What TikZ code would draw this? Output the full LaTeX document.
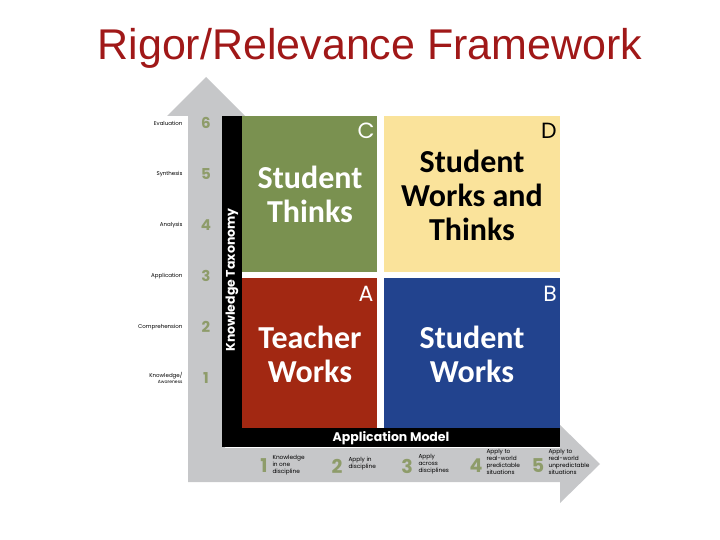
\documentclass[tikz,border=0pt]{standalone}
\usepackage{fontspec}
\setmainfont{Liberation Sans}
\newfontfamily\quadfont{Carlito}
\newfontfamily\geofont{Poppins}
\definecolor{titlered}{HTML}{A01818}
\definecolor{arrowgray}{HTML}{C6C7C9}
\definecolor{qgreen}{HTML}{7A9150}
\definecolor{qyellow}{HTML}{FAE39B}
\definecolor{qred}{HTML}{A22812}
\definecolor{qblue}{HTML}{22438E}
\definecolor{numolive}{HTML}{8E9C6A}
\tikzset{
  quadtext/.style={font=\quadfont\bfseries\fontsize{32}{34}\selectfont, align=center, text=white},
  quadletter/.style={font=\geofont\fontsize{22}{22}\selectfont, text=white},
  lefttag/.style={font=\geofont\fontsize{5.5}{6.5}\selectfont, anchor=east, align=right},
  leftnum/.style={font=\geofont\bfseries\fontsize{15}{15}\selectfont, text=numolive},
  botnum/.style={font=\geofont\bfseries\fontsize{19}{19}\selectfont, text=numolive},
  bottag/.style={font=\geofont\fontsize{5.8}{7}\selectfont, anchor=west, align=left},
  barlabel/.style={font=\geofont\bfseries\fontsize{12.5}{12.5}\selectfont, text=white}
}
\begin{document}
\begin{tikzpicture}[x=1pt,y=-1pt]
\useasboundingbox (0,0) rectangle (720,540);
% title
\node[font=\fontsize{43}{43}\selectfont, text=titlered] (title) at (370,48) {Rigor/Relevance Framework};
% gray arrows
\fill[arrowgray] (206,77) -- (245,116) -- (225,116) -- (225,448) -- (560,448) -- (560,425)
  -- (600,464) -- (560,503) -- (560,482) -- (188,482) -- (188,116) -- (167,116) -- cycle;
% black L bars
\fill[black] (222,116) rectangle (242,447);
\fill[black] (222,428) rectangle (560,447);
% quadrants
\fill[qgreen] (242,116) rectangle (377,272);
\fill[qyellow] (384,116) rectangle (560,272);
\fill[qred] (242,278) rectangle (377,428);
\fill[qblue] (384,278) rectangle (560,428);
% quadrant texts
\node[quadtext] (c) at (310,194) {Student\\Thinks};
\node[quadtext, text=black] (d) at (472,195) {Student\\Works and\\Thinks};
\node[quadtext] (a) at (310,354) {Teacher\\Works};
\node[quadtext] (b) at (472,354) {Student\\Works};
\node[quadletter] (lc) at (366,131) {C};
\node[quadletter, text=black] (ld) at (549,131) {D};
\node[quadletter] (la) at (366,294) {A};
\node[quadletter] (lb) at (550,294) {B};
% bar labels
\node[barlabel, rotate=90] (kt) at (232,280) {Knowledge Taxonomy};
\node[barlabel] (am) at (391,438) {Application Model};
% left scale
\foreach \n/\y/\t in {6/123/Evaluation, 5/174/Synthesis, 4/225/Analysis, 3/276/Application, 2/327/Comprehension}{
  \node[leftnum] (n\n) at (206,\y) {\n};
  \node[lefttag] (t\n) at (186,\y) {\t};
}
\node[leftnum] (n1) at (206,378) {1};
\node[lefttag] (t1) at (186,378) {Knowledge/\\{\fontsize{4.5}{5}\selectfont Awareness}};
% bottom scale
\node[botnum] (b1) at (264,466) {1};
\node[bottag] (bt1) at (269,465) {Knowledge\\in one\\discipline};
\node[botnum] (b2) at (337,466) {2};
\node[bottag] (bt2) at (345,464) {Apply in\\discipline};
\node[botnum] (b3) at (407,466) {3};
\node[bottag] (bt3) at (415,464) {Apply\\across\\disciplines};
\node[botnum] (b4) at (476,466) {4};
\node[bottag] (bt4) at (483,462) {Apply to\\real-world\\predictable\\situations};
\node[botnum] (b5) at (538,466) {5};
\node[bottag] (bt5) at (545,462) {Apply to\\real-world\\unpredictable\\situations};
\end{tikzpicture}
\end{document}
